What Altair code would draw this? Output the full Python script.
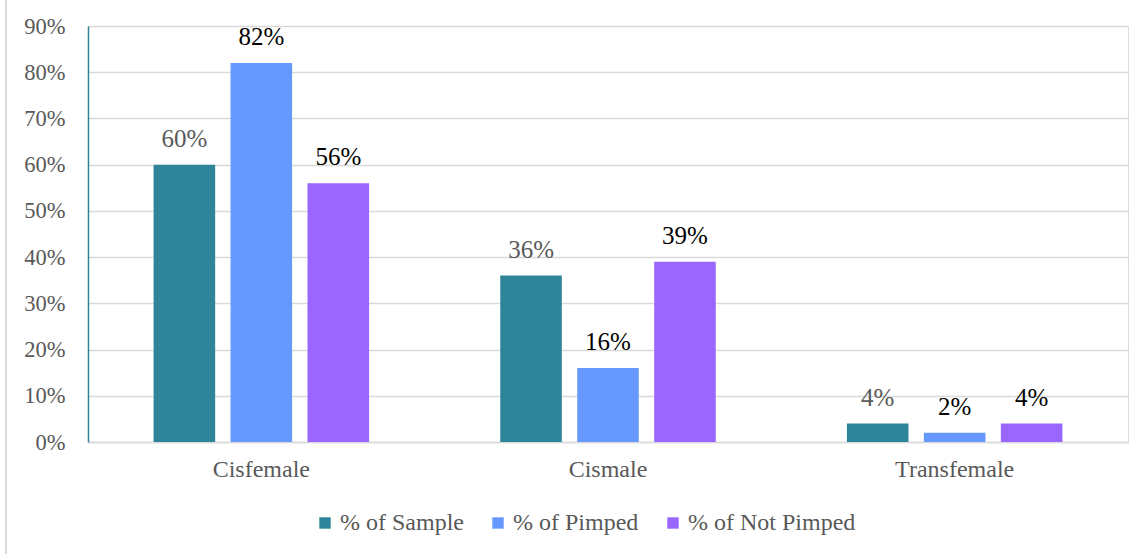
import altair as alt
import pandas as pd

categories = ["Cisfemale", "Cismale", "Transfemale"]
series = ["% of Sample", "% of Pimped", "% of Not Pimped"]
sample = [0.60, 0.36, 0.04]
pimped = [0.82, 0.16, 0.02]
not_pimped = [0.56, 0.39, 0.04]
colors = ["#2E8499", "#6699FF", "#9966FF"]
label_colors = ["#595959", "#000000", "#000000"]

rows = []
for i, c in enumerate(categories):
    for s, vals, lc in zip(series, [sample, pimped, not_pimped], label_colors):
        rows.append({"cat": c, "series": s, "value": vals[i],
                     "label": f"{round(vals[i]*100)}%", "lc": lc})
df = pd.DataFrame(rows)

W, H = 1040, 416
FONT = "Liberation Serif, Times New Roman, serif"

x = alt.X("cat:N", sort=categories, title=None,
          scale=alt.Scale(paddingInner=0.334, paddingOuter=0.167),
          axis=alt.Axis(labelAngle=0, labelFontSize=24, labelColor="#595959", labelFont=FONT,
                        labelPadding=15, ticks=False, domainColor="#D9D9D9", domainWidth=1.5))
xo = alt.XOffset("series:N", sort=series, scale=alt.Scale(paddingInner=0.2, paddingOuter=0.1))
y = alt.Y("value:Q", title=None,
          scale=alt.Scale(domain=[0, 0.9], nice=False),
          axis=alt.Axis(format=".0%", values=[i / 10 for i in range(10)], labelFontSize=22.5,
                        labelColor="#595959", labelFont=FONT, labelPadding=23, ticks=False,
                        domainColor="#2E8499", domainWidth=1.5, gridColor="#D9D9D9", gridWidth=1.5))

bars = alt.Chart(df).mark_bar().encode(
    x=x, xOffset=xo, y=y,
    color=alt.Color("series:N", sort=series, scale=alt.Scale(domain=series, range=colors),
                    legend=alt.Legend(title=None, orient="none", legendX=225, legendY=485,
                                      direction="horizontal", symbolType="square", symbolSize=130,
                                      labelFontSize=24, labelFont=FONT, labelColor="#595959",
                                      labelLimit=400,
                                      columnPadding=22, labelOffset=3, symbolStrokeWidth=0)),
)

text = alt.Chart(df).mark_text(baseline="bottom", dy=-13, fontSize=25, font=FONT).encode(
    x=x, xOffset=xo, y="value:Q", text="label:N",
    color=alt.Color("lc:N", scale=None)
)

border = alt.Chart(pd.DataFrame({"a": [0]})).mark_rule(color="#D9D9D9", strokeWidth=2).encode(
    x=alt.value(-82), y=alt.value(-40), y2=alt.value(H + 140)
)

chart = alt.layer(bars, text, border).properties(
    width=W, height=H,
    autosize=alt.AutoSizeParams(type="none"),
    padding={"left": 88, "top": 26, "right": 16, "bottom": 112},
).configure_view(stroke=None).configure(background="white", font=FONT)

chart.save("out.html", embed_options={"renderer": "svg", "actions": False})
